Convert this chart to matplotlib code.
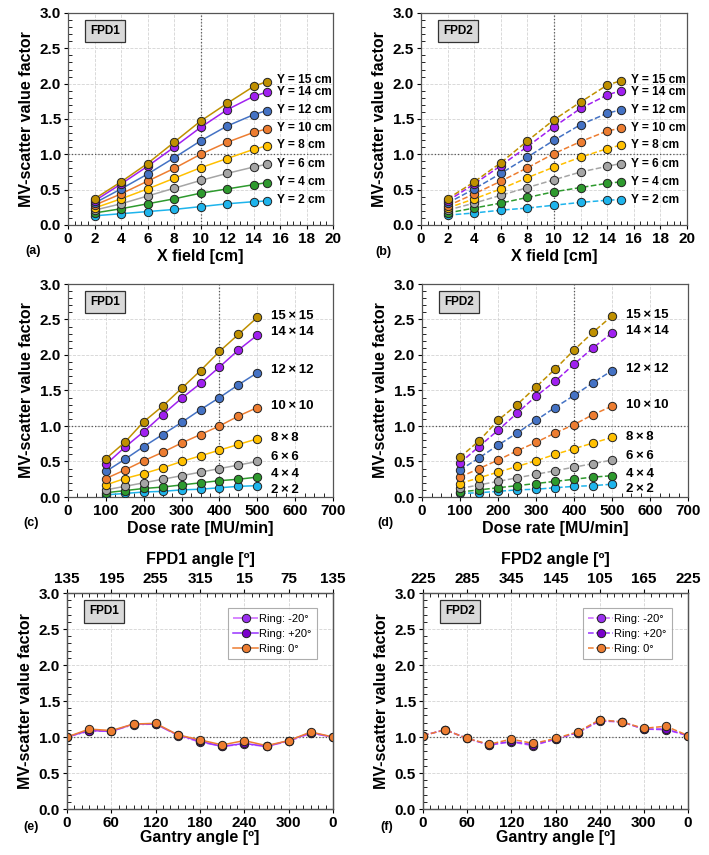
import matplotlib
matplotlib.use('Agg')
import matplotlib.pyplot as plt
from matplotlib.ticker import MultipleLocator, FormatStrFormatter

plt.rcParams['font.family'] = ['Liberation Sans', 'DejaVu Sans']
plt.rcParams['font.weight'] = 'bold'

# ---- data -------------------------------------------------------------
x_field = [2, 4, 6, 8, 10, 12, 14, 15]
y_fields = [15, 14, 12, 10, 8, 6, 4, 2]
colors = ['#BF9000', '#A020F0', '#4472C4', '#ED7D31', '#FFC000', '#A5A5A5', '#2E9A2E', '#1EB4EC']

fpd1_xfield = [
    [0.37, 0.61, 0.87, 1.17, 1.47, 1.72, 1.96, 2.03],
    [0.34, 0.58, 0.83, 1.10, 1.38, 1.63, 1.82, 1.88],
    [0.31, 0.51, 0.72, 0.95, 1.19, 1.40, 1.56, 1.62],
    [0.28, 0.44, 0.62, 0.80, 1.00, 1.17, 1.31, 1.36],
    [0.24, 0.37, 0.51, 0.66, 0.81, 0.94, 1.07, 1.12],
    [0.21, 0.30, 0.41, 0.52, 0.63, 0.73, 0.82, 0.86],
    [0.17, 0.23, 0.30, 0.37, 0.45, 0.51, 0.57, 0.60],
    [0.13, 0.16, 0.19, 0.22, 0.26, 0.30, 0.33, 0.34],
]
fpd2_xfield = [
    [0.37, 0.61, 0.88, 1.19, 1.49, 1.74, 1.98, 2.04],
    [0.34, 0.58, 0.84, 1.11, 1.39, 1.65, 1.84, 1.90],
    [0.31, 0.51, 0.73, 0.96, 1.20, 1.42, 1.58, 1.63],
    [0.27, 0.44, 0.62, 0.81, 1.01, 1.18, 1.33, 1.37],
    [0.24, 0.37, 0.51, 0.67, 0.82, 0.96, 1.08, 1.13],
    [0.21, 0.31, 0.42, 0.53, 0.64, 0.75, 0.83, 0.87],
    [0.17, 0.24, 0.31, 0.39, 0.47, 0.53, 0.59, 0.61],
    [0.14, 0.17, 0.21, 0.24, 0.28, 0.32, 0.35, 0.36],
]
xfield_label_y1 = [2.05, 1.88, 1.63, 1.37, 1.13, 0.87, 0.61, 0.35]
xfield_label_y2 = [2.05, 1.88, 1.63, 1.37, 1.13, 0.87, 0.61, 0.35]

dose_rate = [100, 150, 200, 250, 300, 350, 400, 450, 500]
square_fields = ['15\u2009×\u200915', '14\u2009×\u200914', '12\u2009×\u200912', '10\u2009×\u200910',
                 '8\u2009×\u20098', '6\u2009×\u20096', '4\u2009×\u20094', '2\u2009×\u20092']
fpd1_dose = [
    [0.54, 0.77, 1.06, 1.28, 1.53, 1.78, 2.05, 2.29, 2.53],
    [0.46, 0.70, 0.92, 1.16, 1.39, 1.60, 1.83, 2.07, 2.28],
    [0.36, 0.53, 0.71, 0.88, 1.05, 1.23, 1.40, 1.58, 1.75],
    [0.26, 0.38, 0.51, 0.63, 0.76, 0.88, 1.00, 1.14, 1.26],
    [0.17, 0.26, 0.33, 0.41, 0.50, 0.58, 0.66, 0.74, 0.82],
    [0.10, 0.15, 0.20, 0.25, 0.30, 0.35, 0.40, 0.45, 0.50],
    [0.06, 0.09, 0.12, 0.14, 0.17, 0.20, 0.23, 0.25, 0.28],
    [0.03, 0.05, 0.07, 0.08, 0.10, 0.11, 0.13, 0.15, 0.16],
]
fpd2_dose = [
    [0.56, 0.79, 1.08, 1.30, 1.55, 1.80, 2.07, 2.32, 2.55],
    [0.48, 0.71, 0.94, 1.18, 1.42, 1.63, 1.87, 2.10, 2.31],
    [0.38, 0.55, 0.73, 0.90, 1.08, 1.26, 1.43, 1.61, 1.78],
    [0.28, 0.40, 0.52, 0.65, 0.77, 0.90, 1.02, 1.16, 1.28],
    [0.19, 0.27, 0.35, 0.43, 0.51, 0.60, 0.68, 0.76, 0.84],
    [0.12, 0.17, 0.22, 0.27, 0.32, 0.37, 0.42, 0.47, 0.52],
    [0.07, 0.10, 0.13, 0.16, 0.19, 0.22, 0.25, 0.28, 0.30],
    [0.05, 0.06, 0.08, 0.10, 0.11, 0.13, 0.15, 0.16, 0.18],
]
dose_label_y1 = [2.55, 2.32, 1.79, 1.28, 0.83, 0.56, 0.32, 0.10]
dose_label_y2 = [2.57, 2.34, 1.80, 1.30, 0.85, 0.58, 0.33, 0.11]

gantry = [0, 30, 60, 90, 120, 150, 180, 210, 240, 270, 300, 330, 360]
gantry_ticks = [0, 60, 120, 180, 240, 300, 360]
gantry_labels = ['0', '60', '120', '180', '240', '300', '0']
fpd1_top_labels = ['135', '195', '255', '315', '15', '75', '135']
fpd2_top_labels = ['225', '285', '345', '145', '105', '165', '225']

fpd1_ring_m20 = [1.00, 1.08, 1.08, 1.17, 1.18, 1.02, 0.93, 0.87, 0.90, 0.87, 0.94, 1.05, 1.00]
fpd1_ring_p20 = [1.00, 1.09, 1.08, 1.18, 1.18, 1.03, 0.94, 0.87, 0.91, 0.87, 0.95, 1.06, 1.00]
fpd1_ring_0 = [1.00, 1.11, 1.09, 1.18, 1.19, 1.03, 0.96, 0.89, 0.95, 0.88, 0.95, 1.07, 1.00]
fpd2_ring_m20 = [1.02, 1.10, 0.98, 0.89, 0.93, 0.88, 0.97, 1.06, 1.22, 1.21, 1.11, 1.10, 1.02]
fpd2_ring_p20 = [1.02, 1.10, 0.98, 0.89, 0.94, 0.89, 0.97, 1.06, 1.23, 1.21, 1.11, 1.11, 1.02]
fpd2_ring_0 = [1.02, 1.10, 0.98, 0.90, 0.97, 0.91, 0.98, 1.07, 1.24, 1.21, 1.12, 1.15, 1.02]

ring_names = ['Ring: -20°', 'Ring: +20°', 'Ring: 0°']
ring_face = ['#9B30F0', '#7A00CC', '#ED7D31']
ring_line = ['#CC66FF', '#9933FF', '#ED7D31']

# ---- figure -----------------------------------------------------------
W, H = 709, 855
fig = plt.figure(figsize=(W / 100, H / 100), dpi=100)


def make_ax(left, top, right, bottom):
    return fig.add_axes([left / W, 1 - bottom / H, (right - left) / W, (bottom - top) / H])


def style_ax(ax, xmax, xmajor, xminor, vline=None):
    ax.set_ylim(0, 3.0)
    ax.set_xlim(0, xmax)
    ax.yaxis.set_major_locator(MultipleLocator(0.5))
    ax.yaxis.set_minor_locator(MultipleLocator(0.1))
    ax.yaxis.set_major_formatter(FormatStrFormatter('%.1f'))
    ax.xaxis.set_major_locator(MultipleLocator(xmajor))
    ax.xaxis.set_minor_locator(MultipleLocator(xminor))
    ax.tick_params(which='major', direction='out', length=3, width=0.8, labelsize=11, pad=2)
    ax.tick_params(which='minor', direction='in', length=3, width=0.6)
    ax.grid(True, which='major', color='#D3D3D3', linestyle='--', linewidth=0.6)
    ax.set_axisbelow(True)
    ax.axhline(1.0, color='#555555', linestyle=':', linewidth=0.9, zorder=1)
    if vline is not None:
        ax.axvline(vline, color='#555555', linestyle=':', linewidth=0.9, zorder=1)
    for sp in ax.spines.values():
        sp.set_color('#555555')
        sp.set_linewidth(0.9)
    ax.set_ylabel('MV-scatter value factor', fontsize=11.5, fontweight='bold', labelpad=4)


def fpd_box(ax, text):
    ax.text(0.14, 0.915, text, transform=ax.transAxes, ha='center', va='center',
            fontsize=8.5, fontweight='bold', zorder=5,
            bbox=dict(boxstyle='square,pad=0.45', facecolor='#D9D9D9', edgecolor='#333333', linewidth=0.9))


def plot_family(ax, xs, series, ls):
    for vals, c in zip(reversed(series), reversed(colors)):
        ax.plot(xs, vals, linestyle=ls, color=c, linewidth=1.1, marker='o', markersize=6,
                markerfacecolor=c, markeredgecolor='#222222', markeredgewidth=0.7, zorder=3)


# (a) (b) X field
for left, right, data, lab_y, ls, name in [
        (68, 333, fpd1_xfield, xfield_label_y1, '-', 'FPD1'),
        (421, 687, fpd2_xfield, xfield_label_y2, '--', 'FPD2')]:
    ax = make_ax(left, 13, right, 225)
    style_ax(ax, 20, 2, 0.5, vline=10)
    plot_family(ax, x_field, data, ls)
    for yf, ly in zip(y_fields, lab_y):
        ax.text(15.8, ly, f'Y = {yf} cm', fontsize=8.6, fontweight='bold', va='center', ha='left')
    ax.set_xlabel('X field [cm]', fontsize=11.5, fontweight='bold', labelpad=2)
    fpd_box(ax, name)

# (c) (d) dose rate
for left, right, data, lab_y, ls, name in [
        (68, 333, fpd1_dose, dose_label_y1, '-', 'FPD1'),
        (422, 688, fpd2_dose, dose_label_y2, '--', 'FPD2')]:
    ax = make_ax(left, 284, right, 497)
    style_ax(ax, 700, 100, 25, vline=400)
    plot_family(ax, dose_rate, data, ls)
    for lab, ly in zip(square_fields, lab_y):
        ax.text(537, ly, lab, fontsize=9.5, fontweight='bold', va='center', ha='left')
    ax.set_xlabel('Dose rate [MU/min]', fontsize=11.5, fontweight='bold', labelpad=2)
    fpd_box(ax, name)

# (e) (f) gantry angle
for left, right, rings, top_labels, ls_list, name in [
        (67, 333, [fpd1_ring_m20, fpd1_ring_p20, fpd1_ring_0], fpd1_top_labels, ['-.', '-', '-'], 'FPD1'),
        (423, 688, [fpd2_ring_m20, fpd2_ring_p20, fpd2_ring_0], fpd2_top_labels, ['--', '--', '--'], 'FPD2')]:
    ax = make_ax(left, 593, right, 809)
    style_ax(ax, 360, 60, 10)
    ax.set_xticks(gantry_ticks)
    ax.set_xticklabels(gantry_labels)
    handles = []
    for vals, nm, fc, lc, ls in zip(rings, ring_names, ring_face, ring_line, ls_list):
        h, = ax.plot(gantry, vals, linestyle=ls, color=lc, linewidth=1.1, marker='o', markersize=6,
                     markerfacecolor=fc, markeredgecolor='#222222', markeredgewidth=0.7, zorder=3,
                     label=nm)
        handles.append(h)
    leg = ax.legend(handles=handles, loc='upper right', bbox_to_anchor=(0.96, 0.955),
                    fontsize=8, frameon=True, fancybox=False, handlelength=2.2,
                    handletextpad=0.1, labelspacing=0.45, borderpad=0.5)
    leg.get_frame().set_edgecolor('#999999')
    leg.get_frame().set_linewidth(0.8)
    for t in leg.get_texts():
        t.set_fontweight('normal')
    ax.set_xlabel('Gantry angle [º]', fontsize=11.5, fontweight='bold', labelpad=0)
    fpd_box(ax, name)
    top = ax.twiny()
    top.set_xlim(0, 360)
    top.set_xticks(gantry_ticks)
    top.set_xticklabels(top_labels)
    top.xaxis.set_minor_locator(MultipleLocator(10))
    top.tick_params(which='major', direction='out', length=3, width=0.8, labelsize=11, pad=2)
    top.tick_params(which='minor', direction='in', length=3, width=0.6)
    top.set_xlabel(f'{name} angle [º]', fontsize=11.5, fontweight='bold', labelpad=6)
    for sp in top.spines.values():
        sp.set_color('#555555')
        sp.set_linewidth(0.9)

# panel letters
for lab, x, y in [('(a)', 25, 251), ('(b)', 375, 252), ('(c)', 23, 523),
                  ('(d)', 377, 523), ('(e)', 23, 827), ('(f)', 380, 827)]:
    fig.text(x / W, 1 - y / H, lab, fontsize=9, fontweight='bold', va='center', ha='left')

fig.savefig('out.png', dpi=100, facecolor='white')
